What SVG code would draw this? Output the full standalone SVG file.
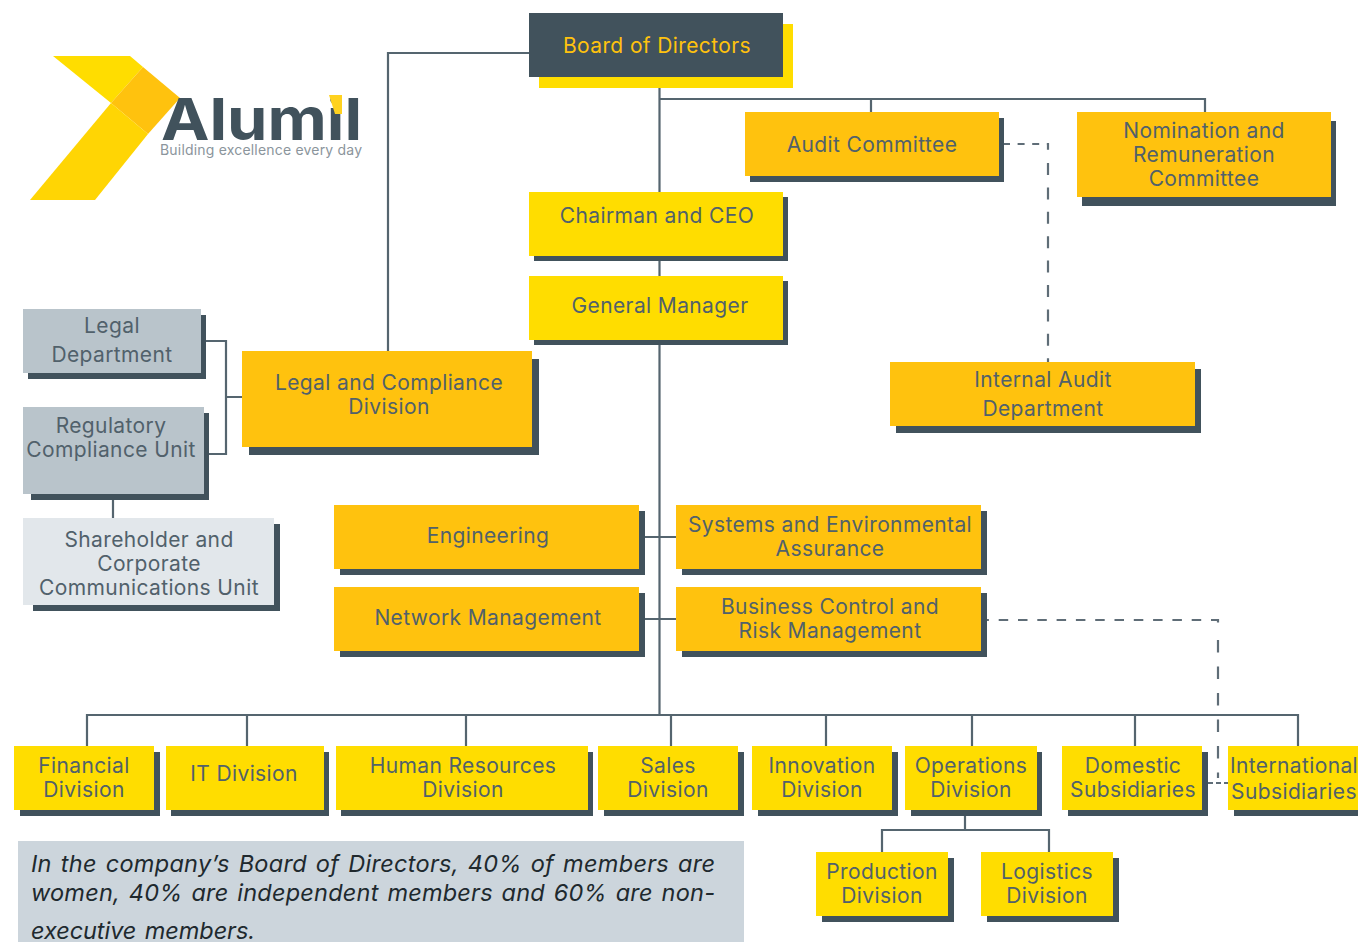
<svg xmlns="http://www.w3.org/2000/svg" width="1358" height="942" viewBox="0 0 1358 942">
<style>
text{font-family:Inter,"Liberation Sans",sans-serif;font-size:21px;letter-spacing:.38px;fill:#51616b;text-anchor:middle}
.y{fill:#ffdd00}.o{fill:#ffc20e}.g{fill:#b9c4cb}.l{fill:#e2e7eb}.s{fill:#41525c}
.c{fill:none;stroke:#55656f;stroke-width:2.2}
.d{fill:none;stroke:#5f6d77;stroke-width:2.2}
.note{font-style:italic;font-size:23.5px;letter-spacing:0;word-spacing:2px;fill:#20292e;text-anchor:start}
</style>
<rect width="1358" height="942" fill="#fff"/>
<g id="logo">
<polygon points="53,56 130,56 143,67 111,103" fill="#ffdd00"/>
<polygon points="143,67 180,98 148,134 111,103" fill="#ffc20e"/>
<polygon points="111,103 148,134 95,200 30,200" fill="#ffd504"/>
<text x="161" y="140" textLength="201" lengthAdjust="spacingAndGlyphs" style="font-size:58px;font-weight:700;letter-spacing:0;fill:#41525c;text-anchor:start">Alumil</text>
<polygon points="329,95 342,95 342,114 335,114" fill="#ffd21f"/>
<text x="160" y="155" textLength="202" style="font-size:14px;letter-spacing:0;fill:#8b959c;text-anchor:start">Building excellence every day</text>
</g>
<g id="connectors">
<path class="c" d="M388 351V53H529M659.5 88V715M659.5 99H1205V112M871 99V112M87 746V715H1298V746M247 715V746M466 715V746M671 715V746M826 715V746M972 715V746M1135 715V746M645 537H676M645 619H676M206 341H226V454H209M226 397H242M113 500V518M965 816V830M882 852V830H1049V852"/>
<path class="d" stroke-dasharray="7 7.6" d="M1003 144H1048V151"/>
<path class="d" stroke-dasharray="12 12.4" d="M1048 163V362"/>
<path class="d" stroke-dasharray="9.5 9.8" d="M979.4 620H1218V626"/>
<path class="d" stroke-dasharray="12.5 14" d="M1218 640V778"/>
<path class="d" stroke-dasharray="5 3" d="M1208 783H1228"/>
</g>
<g id="board"><rect class="y" x="539" y="24" width="254" height="64"/><rect class="s" x="529" y="13" width="254" height="64"/><text x="657" y="53" style="fill:#ffc20e">Board of Directors</text></g>
<g id="audit"><rect class="s" x="750" y="118" width="254" height="64"/><rect class="o" x="745" y="112" width="254" height="64"/><text x="872" y="152">Audit Committee</text></g>
<g id="nomination"><rect class="s" x="1082" y="121" width="254" height="85"/><rect class="o" x="1077" y="112" width="254" height="85"/><text x="1204" y="138">Nomination and</text><text x="1204" y="162">Remuneration</text><text x="1204" y="186">Committee</text></g>
<g id="chairman"><rect class="s" x="534" y="197" width="254" height="64"/><rect class="y" x="529" y="192" width="254" height="64"/><text x="657" y="223">Chairman and CEO</text></g>
<g id="gm"><rect class="s" x="534" y="281" width="254" height="64"/><rect class="y" x="529" y="276" width="254" height="64"/><text x="660" y="313">General Manager</text></g>
<g id="legal-compliance"><rect class="s" x="249" y="359" width="290" height="96"/><rect class="o" x="242" y="351" width="290" height="96"/><text x="389" y="390">Legal and Compliance</text><text x="389" y="414">Division</text></g>
<g id="internal-audit"><rect class="s" x="896" y="369" width="305" height="64"/><rect class="o" x="890" y="362" width="305" height="64"/><text x="1043" y="387">Internal Audit</text><text x="1043" y="416">Department</text></g>
<g id="legal-dept"><rect class="s" x="28" y="315" width="178" height="64"/><rect class="g" x="23" y="309" width="178" height="64"/><text x="112" y="333">Legal</text><text x="112" y="362">Department</text></g>
<g id="regulatory"><rect class="s" x="31" y="413" width="178" height="87"/><rect class="g" x="23" y="407" width="181" height="87"/><text x="111" y="433">Regulatory</text><text x="111" y="457">Compliance Unit</text></g>
<g id="shareholder"><rect class="s" x="33" y="524" width="247" height="87"/><rect class="l" x="23" y="518" width="251" height="87"/><text x="149" y="547">Shareholder and</text><text x="149" y="571">Corporate</text><text x="149" y="595">Communications Unit</text></g>
<g id="engineering"><rect class="s" x="340" y="511" width="305" height="64"/><rect class="o" x="334" y="505" width="305" height="64"/><text x="488" y="543">Engineering</text></g>
<g id="systems"><rect class="s" x="682" y="511" width="305" height="64"/><rect class="o" x="676" y="505" width="305" height="64"/><text x="830" y="532">Systems and Environmental</text><text x="830" y="556">Assurance</text></g>
<g id="network"><rect class="s" x="340" y="593" width="305" height="64"/><rect class="o" x="334" y="587" width="305" height="64"/><text x="488" y="625">Network Management</text></g>
<g id="business"><rect class="s" x="682" y="593" width="305" height="64"/><rect class="o" x="676" y="587" width="305" height="64"/><text x="830" y="614">Business Control and</text><text x="830" y="638">Risk Management</text></g>
<g id="financial"><rect class="s" x="20" y="752" width="140" height="64"/><rect class="y" x="14" y="746" width="140" height="64"/><text x="84" y="773">Financial</text><text x="84" y="797">Division</text></g>
<g id="it"><rect class="s" x="171" y="752" width="158" height="64"/><rect class="y" x="166" y="746" width="158" height="64"/><text x="244" y="781">IT Division</text></g>
<g id="hr"><rect class="s" x="341" y="752" width="252" height="64"/><rect class="y" x="336" y="746" width="252" height="64"/><text x="463" y="773">Human Resources</text><text x="463" y="797">Division</text></g>
<g id="sales"><rect class="s" x="604" y="752" width="140" height="64"/><rect class="y" x="598" y="746" width="140" height="64"/><text x="668" y="773">Sales</text><text x="668" y="797">Division</text></g>
<g id="innovation"><rect class="s" x="758" y="752" width="140" height="64"/><rect class="y" x="752" y="746" width="140" height="64"/><text x="822" y="773">Innovation</text><text x="822" y="797">Division</text></g>
<g id="operations"><rect class="s" x="911" y="752" width="131" height="64"/><rect class="y" x="905" y="746" width="132" height="64"/><text x="971" y="773">Operations</text><text x="971" y="797">Division</text></g>
<g id="domestic"><rect class="s" x="1068" y="752" width="140" height="64"/><rect class="y" x="1062" y="746" width="140" height="64"/><text x="1133" y="773">Domestic</text><text x="1133" y="797">Subsidiaries</text></g>
<g id="international"><rect class="s" x="1234" y="752" width="124" height="64"/><rect class="y" x="1228" y="746" width="130" height="64"/><text x="1294" y="773">International</text><text x="1294" y="799">Subsidiaries</text></g>
<g id="production"><rect class="s" x="822" y="858" width="132" height="64"/><rect class="y" x="816" y="852" width="132" height="64"/><text x="882" y="879">Production</text><text x="882" y="903">Division</text></g>
<g id="logistics"><rect class="s" x="987" y="858" width="132" height="64"/><rect class="y" x="981" y="852" width="132" height="64"/><text x="1047" y="879">Logistics</text><text x="1047" y="903">Division</text></g>
<g id="note"><rect x="18" y="841" width="726" height="101" fill="#ccd5dc"/>
<text class="note" x="31" y="872" textLength="684">In the company’s Board of Directors, 40% of members are</text>
<text class="note" x="31" y="901" textLength="684">women, 40% are independent members and 60% are non-</text>
<text class="note" x="31" y="939" textLength="224">executive members.</text></g>
</svg>
